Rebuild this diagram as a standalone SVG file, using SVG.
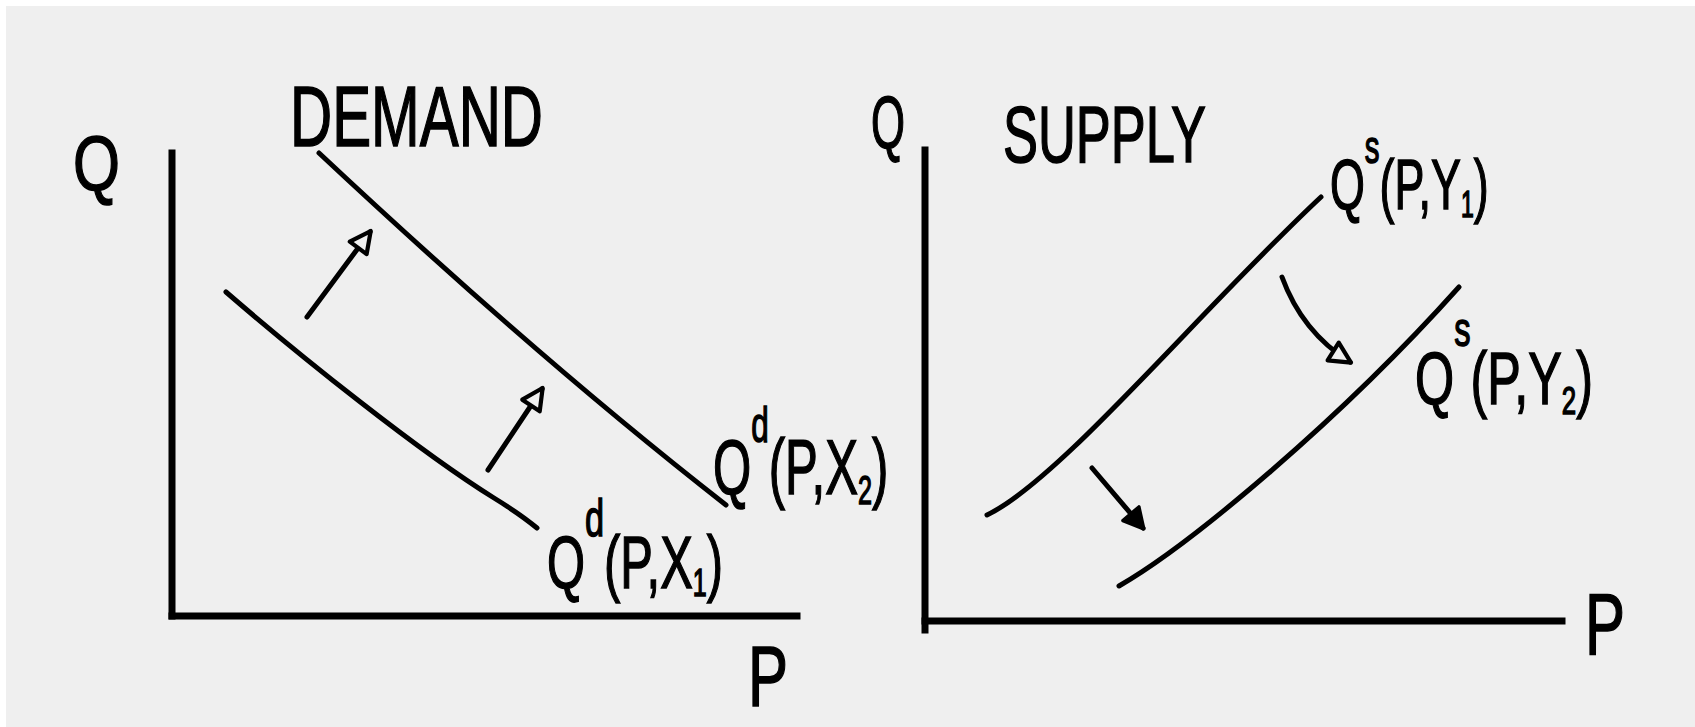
<svg xmlns="http://www.w3.org/2000/svg" width="1695" height="727" viewBox="0 0 1695 727">
<style>
.bg{fill:#efefef}
.axis{stroke:#000;stroke-width:7;fill:none;stroke-linecap:square}
.curve{stroke:#000;stroke-width:5;fill:none;stroke-linecap:round}
.arr{stroke:#000;stroke-width:5;fill:none;stroke-linecap:round}
.hand{font-family:"Liberation Sans","DejaVu Sans",sans-serif;fill:#000;stroke:#000;stroke-width:1.5}
</style>
<defs>
<marker id="openHead" viewBox="0 0 12 12" refX="10" refY="6" markerWidth="28" markerHeight="28" markerUnits="userSpaceOnUse" orient="auto">
<path d="M1.5,1.5 L10.5,6 L1.5,10.5 Z" fill="#efefef" stroke="#000" stroke-width="1.8" stroke-linejoin="round"/>
</marker>
<marker id="solidHead" viewBox="0 0 12 12" refX="10" refY="6" markerWidth="28" markerHeight="28" markerUnits="userSpaceOnUse" orient="auto">
<path d="M2,1.5 L10.5,6 L2,10.5 Z" fill="#000" stroke="#000" stroke-width="1.5" stroke-linejoin="round"/>
</marker>
</defs>
<rect x="0" y="0" width="1695" height="727" fill="#ffffff"/>
<rect class="bg" x="6" y="6" width="1689" height="721"/>

<g id="demand-chart">
<g id="demand-axes">
<line class="axis" x1="172" y1="153" x2="172" y2="616"/>
<line class="axis" x1="172" y1="616" x2="797" y2="616"/>
<text class="hand" x="73" y="190" font-size="78" textLength="47" lengthAdjust="spacingAndGlyphs">Q</text>
<text class="hand" x="748" y="706" font-size="86" textLength="40" lengthAdjust="spacingAndGlyphs">P</text>
</g>
<g id="demand-title">
<text class="hand" x="290" y="146" font-size="86" textLength="253" lengthAdjust="spacingAndGlyphs">DEMAND</text>
</g>
<g id="demand-x1">
<path class="curve" d="M226,292 C300,356 420,452 494,498 Q520,514 537,528"/>
<g transform="translate(547,588) scale(0.66,1)">
<text class="hand" x="0" y="0" font-size="74">Q<tspan font-size="52" dy="-52">d</tspan><tspan font-size="74" dy="52">(P,X</tspan><tspan font-size="38" dy="8">1</tspan><tspan font-size="74" dy="-8">)</tspan></text>
</g>
</g>
<g id="demand-x2">
<path class="curve" d="M319,153 Q540,360 726,505"/>
<g transform="translate(713,494) scale(0.63,1)">
<text class="hand" x="0" y="0" font-size="78">Q<tspan font-size="50" dy="-52">d</tspan><tspan font-size="78" dy="52">(P,X</tspan><tspan font-size="40" dy="10">2</tspan><tspan font-size="78" dy="-10">)</tspan></text>
</g>
</g>
</g>

<g id="supply-chart">
<g id="supply-axes">
<line class="axis" x1="925" y1="150" x2="925" y2="630"/>
<line class="axis" x1="925" y1="621" x2="1562" y2="621"/>
<text class="hand" x="871" y="148" font-size="74" textLength="34" lengthAdjust="spacingAndGlyphs">Q</text>
<text class="hand" x="1585" y="654" font-size="88" textLength="40" lengthAdjust="spacingAndGlyphs">P</text>
</g>
<g id="supply-title">
<text class="hand" x="1003" y="162" font-size="80" textLength="203" lengthAdjust="spacingAndGlyphs">SUPPLY</text>
</g>
<g id="supply-y1">
<path class="curve" d="M987,515 C1060,480 1200,310 1321,197"/>
<g transform="translate(1330,209) scale(0.64,1)">
<text class="hand" x="0" y="0" font-size="70">Q<tspan font-size="46" dy="-46">s</tspan><tspan font-size="70" dy="46">(P,Y</tspan><tspan font-size="36" dy="8">1</tspan><tspan font-size="70" dy="-8">)</tspan></text>
</g>
</g>
<g id="supply-y2">
<path class="curve" d="M1119,586 C1190,545 1340,420 1459,287"/>
<g transform="translate(1415,404) scale(0.68,1)">
<text class="hand" x="0" y="0" font-size="74">Q<tspan font-size="48" dy="-58">s</tspan><tspan font-size="74" dy="58">(P,Y</tspan><tspan font-size="38" dy="10">2</tspan><tspan font-size="74" dy="-10">)</tspan></text>
</g>
</g>
</g>

<g id="connectors">
<line class="arr" x1="307" y1="317" x2="370" y2="232" marker-end="url(#openHead)"/>
<line class="arr" x1="488" y1="470" x2="542" y2="389" marker-end="url(#openHead)"/>
<path class="arr" d="M1282,277 Q1302,332 1350,362" marker-end="url(#openHead)"/>
<line class="arr" x1="1092" y1="468" x2="1143" y2="528" marker-end="url(#solidHead)"/>
</g>
</svg>
